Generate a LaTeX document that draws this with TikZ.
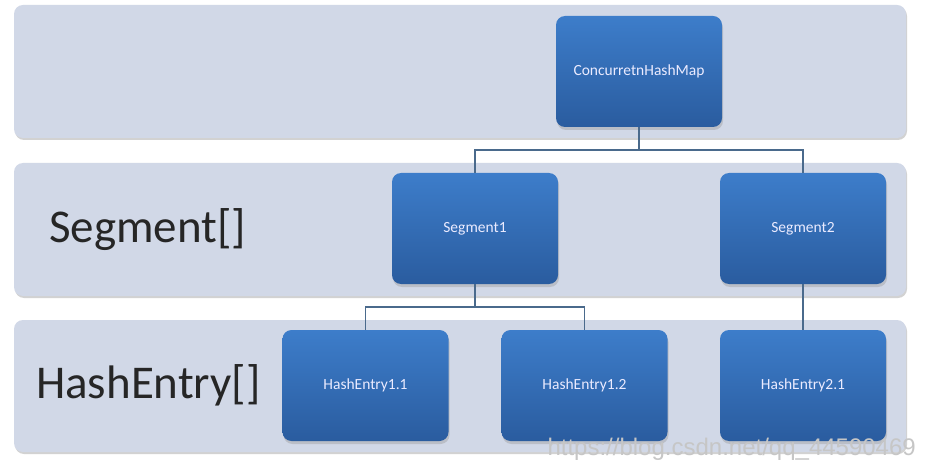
\documentclass[tikz,border=0pt]{standalone}
\usepackage{fontspec}
\setmainfont{Carlito}
\newfontfamily\wmfont{Liberation Sans}
\usetikzlibrary{shadows}
\definecolor{bandfill}{HTML}{D1D8E7}
\definecolor{nodetop}{HTML}{3D7DCA}
\definecolor{nodebot}{HTML}{2A5C9F}
\definecolor{linec}{HTML}{4A6A8C}
\tikzset{
  band/.style={fill=bandfill, rounded corners=9pt, draw=none, drop shadow={shadow xshift=1pt, shadow yshift=-2pt, opacity=0.35, fill=gray}},
  box/.style={rectangle, rounded corners=9pt, minimum width=166pt, minimum height=111pt, top color=nodetop, bottom color=nodebot, draw=none, text=white!92!blue, font=\fontsize{15.5}{18}\selectfont, drop shadow={shadow xshift=1pt, shadow yshift=-3pt, opacity=0.4, fill=gray!80}},
  conn/.style={draw=linec, line width=1.4pt},
  lbl/.style={font=\fontsize{47}{52}\selectfont, text=black!85, anchor=west, inner sep=0pt}
}
\begin{document}
\begin{tikzpicture}[x=1pt,y=-1pt]
\useasboundingbox (0,0) rectangle (926,465);
\fill[white] (0,0) rectangle (926,465);
% bands
\path[band] (14,5) rectangle (906,138);
\path[band] (14,163) rectangle (906,296);
\path[band] (14,320) rectangle (906,452);
% labels
\node[lbl] (lseg) at (49,230) {Segment[]};
\node[lbl] (lhe) at (36,385) {HashEntry[]};
% nodes
\node[box] (chm) at (639,71.5) {ConcurretnHashMap};
\node[box] (s1) at (475,228.5) {Segment1};
\node[box] (s2) at (803,228.5) {Segment2};
\node[box] (h11) at (365.5,385.5) {HashEntry1.1};
\node[box] (h12) at (584.5,385.5) {HashEntry1.2};
\node[box] (h21) at (803,385.5) {HashEntry2.1};
% connectors
\coordinate (j1) at (639,150);
\coordinate (j2) at (475,307);
\draw[conn] (chm.south) -- (j1) -| (s1.north);
\draw[conn] (j1) -| (s2.north);
\draw[conn] (s1.south) -- (j2) -| (h11.north);
\draw[conn] (j2) -| (h12.north);
\draw[conn] (s2.south) -- (h21.north);
% watermark
\node[font=\wmfont\fontsize{24}{28}\selectfont, text=gray!45, anchor=east, inner sep=0pt] (wm) at (916,449) {https://blog.csdn.net/qq\_44590469};
\end{tikzpicture}
\end{document}
